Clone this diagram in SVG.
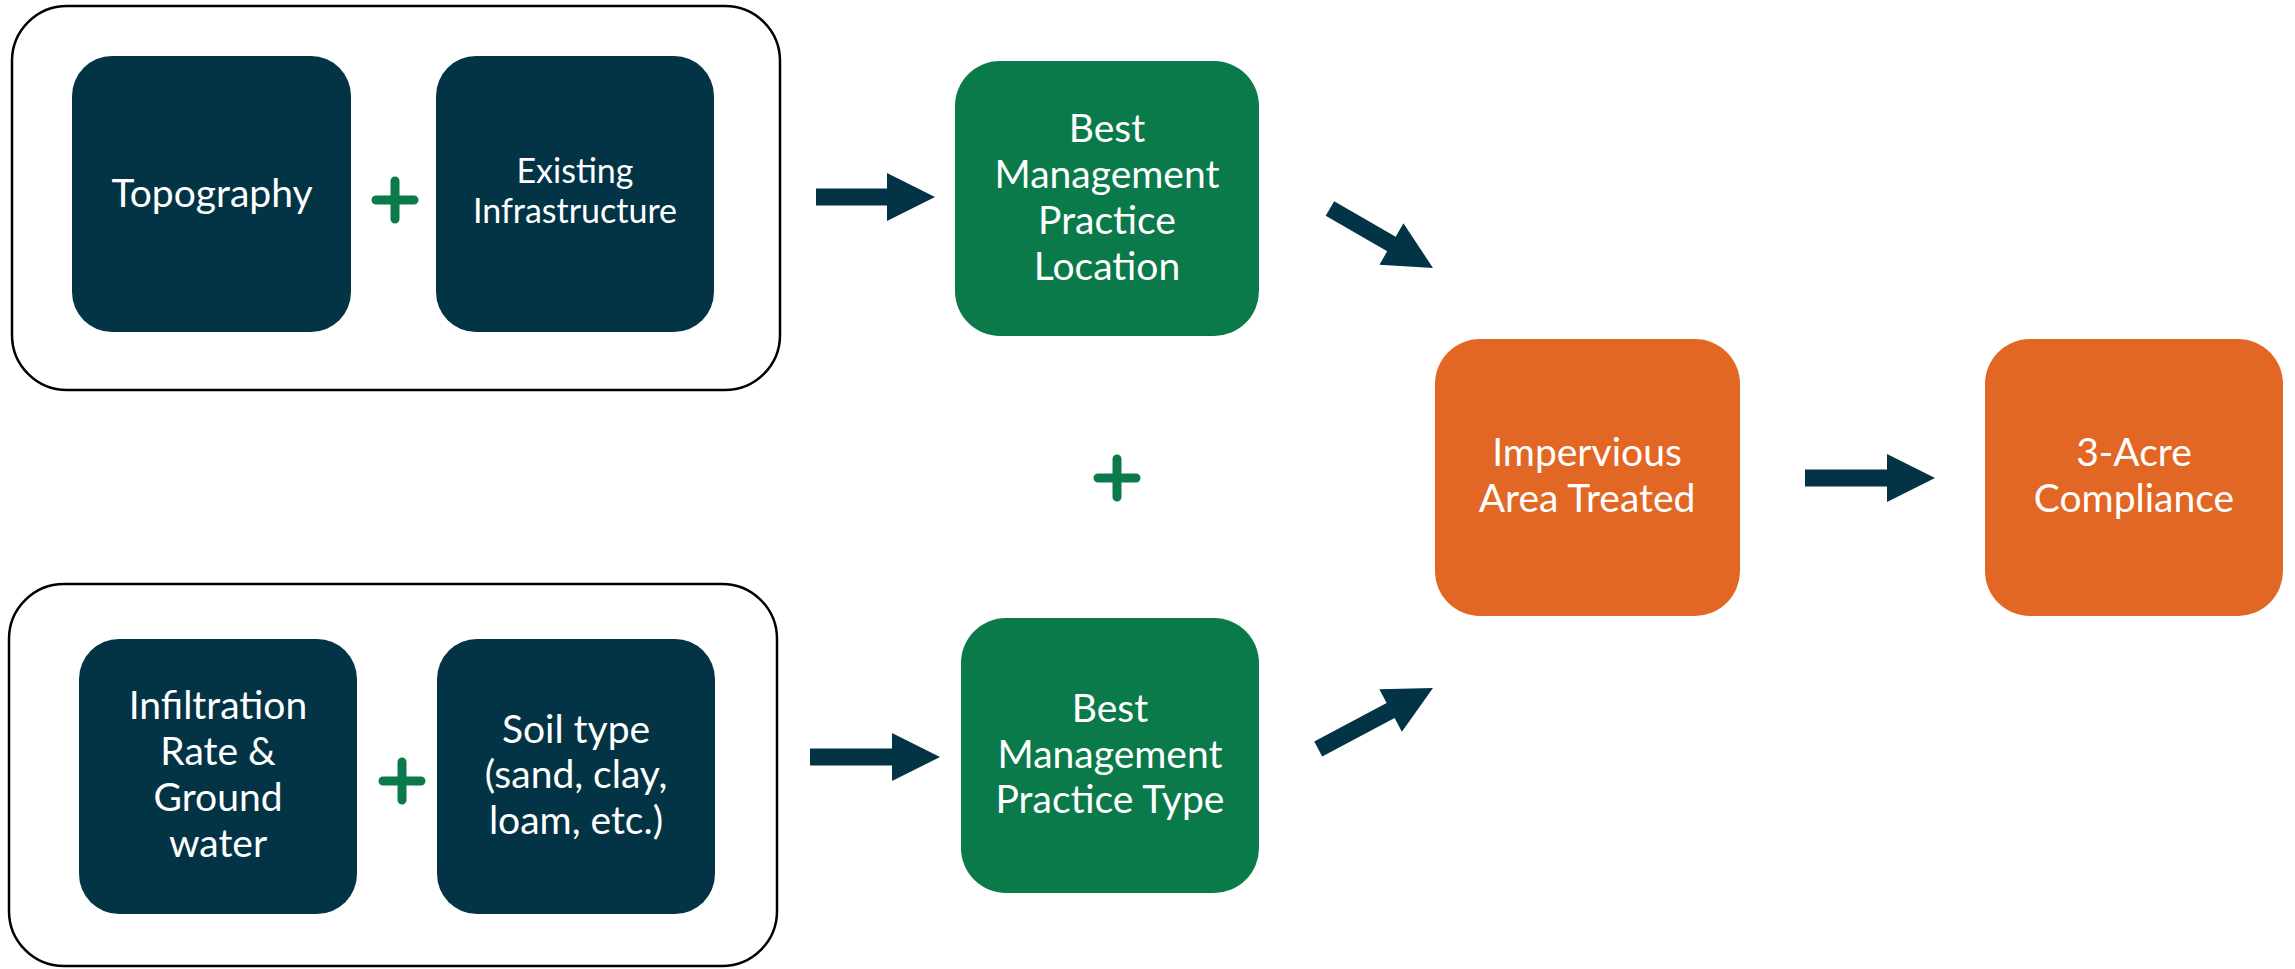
<svg xmlns="http://www.w3.org/2000/svg" width="2295" height="969" viewBox="0 0 2295 969">
  <defs>
    <style>
      .frame { fill: #ffffff; stroke: #000000; stroke-width: 2.5; }
      .dark { fill: #033445; }
      .green { fill: #0b7a4b; }
      .orange { fill: #e26725; }
      .label { font-family: Lato, "Open Sans", "Liberation Sans", sans-serif; font-size: 39px; fill: #ffffff; text-anchor: middle; }
      .label.small { font-size: 34px; }
      .plus { stroke: #0b7a4b; stroke-width: 9; stroke-linecap: round; fill: none; }
      .arrow { fill: #033445; }
    </style>
    <!-- block arrows pointing along +x, tip at origin -->
    <path id="arrowShort" d="M -119 -8.5 L -48 -8.5 L -48 -24 L 0 0 L -48 24 L -48 8.5 L -119 8.5 Z"/>
    <path id="arrowLong" d="M -130 -8.5 L -48 -8.5 L -48 -24 L 0 0 L -48 24 L -48 8.5 L -130 8.5 Z"/>
  </defs>

  <rect width="2295" height="969" fill="#ffffff"/>

  <!-- grouping frames -->
  <g id="site-factors-frame">
    <rect class="frame" x="12" y="6" width="768" height="384" rx="55" ry="55"/>
  </g>
  <g id="soil-factors-frame">
    <rect class="frame" x="9" y="584" width="768" height="382" rx="55" ry="55"/>
  </g>

  <!-- input nodes -->
  <g id="topography">
    <rect class="dark" x="72" y="56" width="279" height="276" rx="40" ry="40"/>
    <text class="label" x="212" y="207">Topography</text>
  </g>
  <g id="existing-infrastructure">
    <rect class="dark" x="436" y="56" width="278" height="276" rx="40" ry="40"/>
    <text class="label small" x="575" y="183">Existing</text>
    <text class="label small" x="575" y="223">Infrastructure</text>
  </g>
  <g id="infiltration-rate">
    <rect class="dark" x="79" y="639" width="278" height="275" rx="40" ry="40"/>
    <text class="label" x="218" y="719">Infiltration</text>
    <text class="label" x="218" y="765">Rate &amp;</text>
    <text class="label" x="218" y="811">Ground</text>
    <text class="label" x="218" y="857">water</text>
  </g>
  <g id="soil-type">
    <rect class="dark" x="437" y="639" width="278" height="275" rx="40" ry="40"/>
    <text class="label" x="576" y="743">Soil type</text>
    <text class="label" x="576" y="788">(sand, clay,</text>
    <text class="label" x="576" y="834">loam, etc.)</text>
  </g>

  <!-- plus signs -->
  <g id="plus-top">
    <path class="plus" d="M 395 181 V 219 M 376 200 H 414"/>
  </g>
  <g id="plus-bottom">
    <path class="plus" d="M 402 762 V 800 M 383 781 H 421"/>
  </g>
  <g id="plus-middle">
    <path class="plus" d="M 1117 459 V 497 M 1098 478 H 1136"/>
  </g>

  <!-- best management practice nodes -->
  <g id="bmp-location">
    <rect class="green" x="955" y="61" width="304" height="275" rx="45" ry="45"/>
    <text class="label" x="1107" y="142">Best</text>
    <text class="label" x="1107" y="188">Management</text>
    <text class="label" x="1107" y="234">Practice</text>
    <text class="label" x="1107" y="280">Location</text>
  </g>
  <g id="bmp-type">
    <rect class="green" x="961" y="618" width="298" height="275" rx="45" ry="45"/>
    <text class="label" x="1110" y="722">Best</text>
    <text class="label" x="1110" y="768">Management</text>
    <text class="label" x="1110" y="813">Practice Type</text>
  </g>

  <!-- outcome nodes -->
  <g id="impervious-area">
    <rect class="orange" x="1435" y="339" width="305" height="277" rx="45" ry="45"/>
    <text class="label" x="1587" y="466">Impervious</text>
    <text class="label" x="1587" y="512">Area Treated</text>
  </g>
  <g id="compliance">
    <rect class="orange" x="1985" y="339" width="298" height="277" rx="45" ry="45"/>
    <text class="label" x="2134" y="466">3-Acre</text>
    <text class="label" x="2134" y="512">Compliance</text>
  </g>

  <!-- connectors -->
  <g id="connectors" class="arrow">
    <use href="#arrowShort" transform="translate(935 197)"/>
    <use href="#arrowLong" transform="translate(940 757)"/>
    <use href="#arrowShort" transform="translate(1433 268) rotate(30)"/>
    <use href="#arrowLong" transform="translate(1433 688) rotate(-28)"/>
    <use href="#arrowLong" transform="translate(1935 478)"/>
  </g>
</svg>
